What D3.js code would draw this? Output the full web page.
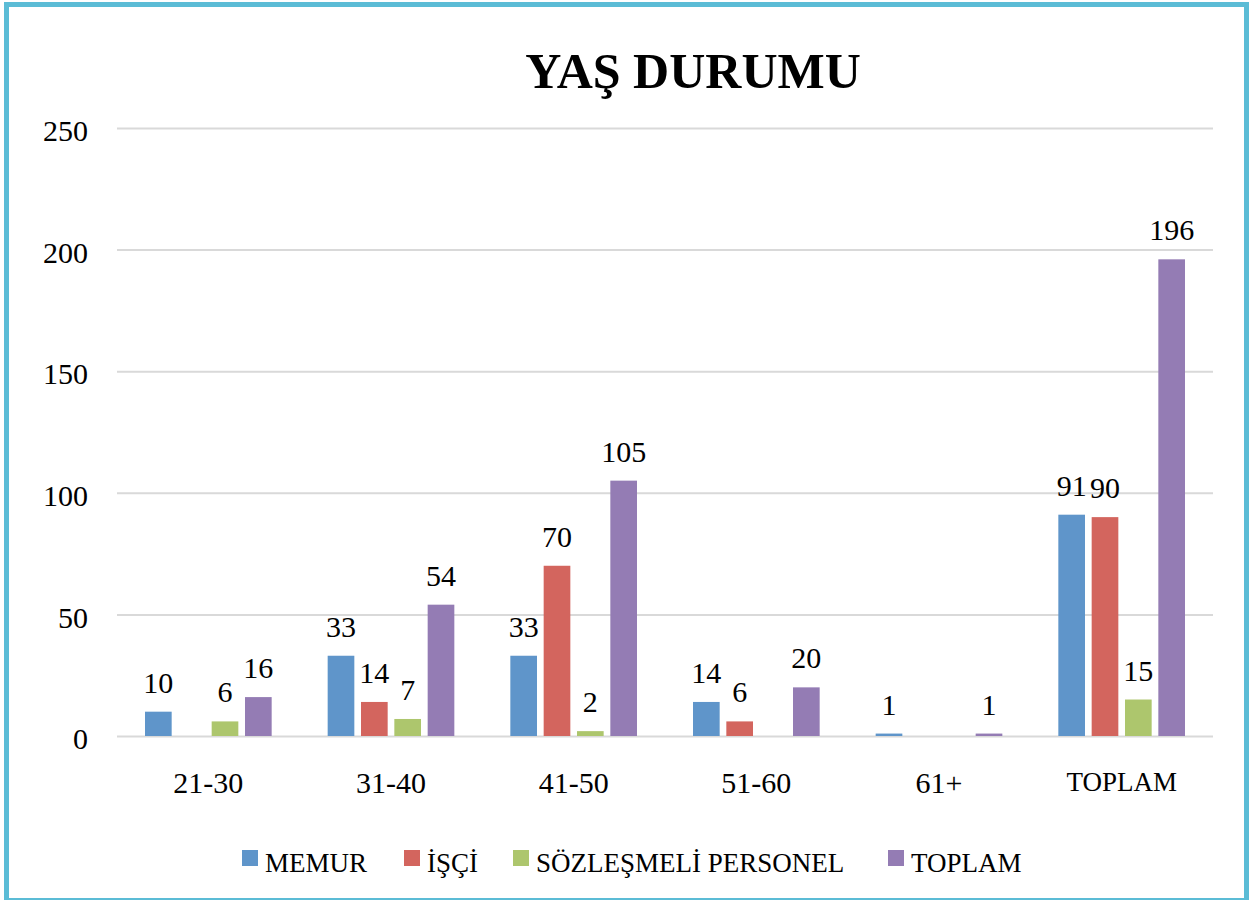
<!DOCTYPE html>
<html>
<head>
<meta charset="utf-8">
<script src="https://cdn.jsdelivr.net/npm/d3@7"></script>
<style>
  html, body { margin: 0; padding: 0; background: #fff; }
  svg { display: block; }
  text { font-family: "Liberation Serif", "DejaVu Serif", serif; fill: #000; }
</style>
</head>
<body>
<svg id="chart" width="1249" height="900"></svg>
<script>
const categories = ["21-30", "31-40", "41-50", "51-60", "61+", "TOPLAM"];
const seriesNames = ["MEMUR", "İŞÇİ", "SÖZLEŞMELİ PERSONEL", "TOPLAM"];
const memur = [10, 33, 33, 14, 1, 91];
const isci = [null, 14, 70, 6, null, 90];
const sozlesmeli = [6, 7, 2, null, null, 15];
const toplam = [16, 54, 105, 20, 1, 196];
const yTicks = [0, 50, 100, 150, 200, 250];
const colors = ["#5F95CA", "#D3655E", "#ADC66D", "#947CB4"];
const title = "YAŞ DURUMU";

const seriesValues = [memur, isci, sozlesmeli, toplam];

const svg = d3.select("#chart");

// outer border
svg.append("rect")
  .attr("x", 6.5).attr("y", 4.5)
  .attr("width", 1240).attr("height", 896)
  .attr("fill", "#fff")
  .attr("stroke", "#5BBCD6")
  .attr("stroke-width", 5);

const plot = { left: 117, right: 1213, top: 128, bottom: 736 };

const y = d3.scaleLinear().domain([0, 250]).range([plot.bottom, plot.top]);
const x0 = d3.scaleBand().domain(categories).range([plot.left, plot.right]).padding(0);
const x1 = d3.scaleBand().domain(d3.range(seriesNames.length))
  .range([28, x0.bandwidth() - 28]).paddingInner(0.2).paddingOuter(0);

// gridlines + y tick labels
const yAxis = d3.axisLeft(y).tickValues(yTicks).tickSize(-(plot.right - plot.left)).tickPadding(29);
const gy = svg.append("g").attr("transform", `translate(${plot.left},0)`).call(yAxis);
gy.select(".domain").remove();
gy.selectAll(".tick line").attr("stroke", "#D9D9D9").attr("stroke-width", 2);
gy.selectAll(".tick text")
  .attr("font-size", 30)
  .attr("font-family", "Liberation Serif, serif")
  .attr("fill", "#000")
  .attr("dy", "0.42em");

// bars
const groups = svg.append("g").selectAll("g")
  .data(categories)
  .join("g")
  .attr("transform", c => `translate(${x0(c)},0)`);

groups.each(function(c, ci) {
  const g = d3.select(this);
  seriesValues.forEach((vals, si) => {
    const v = vals[ci];
    if (v === null || v === undefined) return;
    g.append("rect")
      .attr("x", x1(si))
      .attr("y", y(v))
      .attr("width", x1.bandwidth())
      .attr("height", y(0) - y(v))
      .attr("fill", colors[si]);
    g.append("text")
      .attr("x", x1(si) + x1.bandwidth() / 2)
      .attr("y", y(v) - 19)
      .attr("text-anchor", "middle")
      .attr("font-size", 30)
      .text(v);
  });
});

// x axis labels
const xAxis = d3.axisBottom(x0).tickSize(0).tickPadding(36);
const gx = svg.append("g").attr("transform", `translate(0,${plot.bottom})`).call(xAxis);
gx.select(".domain").remove();
gx.selectAll(".tick text")
  .attr("font-family", "Liberation Serif, serif")
  .attr("fill", "#000")
  .attr("font-size", d => /\d/.test(d) ? 30 : 27);

// title
svg.append("text")
  .attr("x", 693).attr("y", 88)
  .attr("text-anchor", "middle")
  .attr("font-size", 50)
  .attr("font-weight", "bold")
  .text(title);

// legend
const legendX = [242, 404, 513, 888];
const legend = svg.append("g");
seriesNames.forEach((name, i) => {
  const lg = legend.append("g").attr("transform", `translate(${legendX[i]},850)`);
  lg.append("rect").attr("width", 16).attr("height", 16).attr("fill", colors[i]);
  lg.append("text").attr("x", 23).attr("y", 22).attr("font-size", 27).text(name);
});
</script>
</body>
</html>
